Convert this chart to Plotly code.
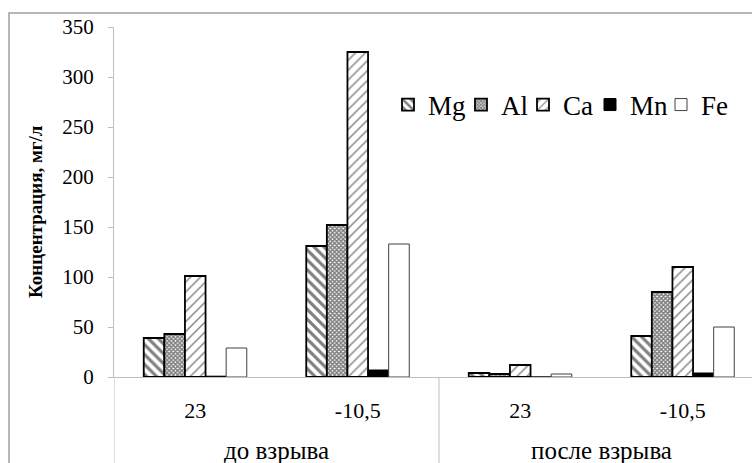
import plotly.graph_objects as go

# ---- data ----
groups = ["до взрыва", "до взрыва", "после взрыва", "после взрыва"]
temps = ["23", "-10,5", "23", "-10,5"]
Mg = [39, 131, 4, 41]
Al = [43, 152, 3, 85]
Ca = [101, 325, 12, 110]
Mn = [0.8, 7, 0, 4]
Fe = [29, 133, 3, 50]
series_names = ["Mg", "Al", "Ca", "Mn", "Fe"]
series_vals = [Mg, Al, Ca, Mn, Fe]
y_ticks = [0, 50, 100, 150, 200, 250, 300, 350]

FONT = "Liberation Serif"
W, H = 752, 463
L, R, T, B = 114, 0, 27, 86
PW = W - L - R
PH = H - T - B

xpos = list(range(len(temps)))

styles = {
    "Mg": dict(color="white", pattern=dict(shape="\\", fgcolor="black", bgcolor="white", size=7, solidity=0.45),
               line=dict(color="black", width=1.8)),
    "Al": dict(color="white", pattern=dict(shape="x", fgcolor="black", bgcolor="white", size=3, solidity=0.75),
               line=dict(color="black", width=1.8)),
    "Ca": dict(color="white", pattern=dict(shape="/", fgcolor="black", bgcolor="white", size=7, solidity=0.2),
               line=dict(color="black", width=1.8)),
    "Mn": dict(color="black", line=dict(color="black", width=1)),
    "Fe": dict(color="white", line=dict(color="#404040", width=1)),
}

# swatch left positions (px) for separate legends
legend_px = {"Mg": 388, "Al": 461, "Ca": 523, "Mn": 590, "Fe": 661}

fig = go.Figure()
for i, (name, vals) in enumerate(zip(series_names, series_vals)):
    lg = "legend" if i == 0 else f"legend{i+1}"
    fig.add_trace(go.Bar(x=xpos, y=vals, name=name, marker=styles[name], legend=lg))

layout_legends = {}
for i, name in enumerate(series_names):
    key = "legend" if i == 0 else f"legend{i+1}"
    layout_legends[key] = dict(
        x=(legend_px[name] - L) / PW, xanchor="left",
        y=(377 - 105) / PH, yanchor="middle",
        bgcolor="rgba(0,0,0,0)", borderwidth=0,
        font=dict(family=FONT, size=27, color="black"),
        itemclick=False, itemdoubleclick=False,
    )

fig.update_layout(
    width=W, height=H,
    margin=dict(l=L, r=R, t=T, b=B, pad=0),
    paper_bgcolor="white", plot_bgcolor="white",
    barmode="group", bargap=0.366, bargroupgap=0,
    showlegend=True,
    font=dict(family=FONT, color="black"),
    **layout_legends,
)

fig.update_xaxes(
    range=[-0.5, -0.5 + PW / 162.5],
    tickvals=xpos, ticktext=temps,
    ticks="", showline=True, linecolor="#bfbfbf", linewidth=1,
    showgrid=False, zeroline=False,
    tickfont=dict(family=FONT, size=22, color="black"),
    ticklabelstandoff=14,
)
fig.update_yaxes(
    range=[0, 350], tickvals=y_ticks,
    ticks="outside", ticklen=5, tickcolor="#bfbfbf",
    showline=True, linecolor="#bfbfbf", linewidth=1,
    showgrid=False, zeroline=False,
    tickfont=dict(family=FONT, size=21, color="black"),
    ticklabelstandoff=10,
)

# group labels (second level of the category axis)
unique_groups = []
for g in groups:
    if g not in unique_groups:
        unique_groups.append(g)
for g in unique_groups:
    idx = [i for i, gg in enumerate(groups) if gg == g]
    fig.add_annotation(x=sum(xpos[i] for i in idx) / len(idx), xref="x",
                       y=(377 - 450) / PH, yref="paper", yanchor="middle",
                       text=g, showarrow=False,
                       font=dict(family=FONT, size=25, color="black"))

# dividers
fig.add_shape(type="line", xref="x", yref="paper", x0=-0.5, x1=-0.5, y0=0, y1=-0.3,
              line=dict(color="#bfbfbf", width=1))
fig.add_shape(type="line", xref="x", yref="paper", x0=1.5, x1=1.5, y0=0, y1=-0.3,
              line=dict(color="#bfbfbf", width=1))

# y-axis title
fig.add_annotation(x=(35 - L) / PW, xref="paper", y=(377 - 212) / PH, yref="paper",
                   text="<b>Концентрация, мг/л</b>", textangle=-90, showarrow=False,
                   xanchor="center", yanchor="middle",
                   font=dict(family=FONT, size=19, color="black"))

# outer chart frame
fig.add_shape(type="rect", xref="paper", yref="paper",
              x0=(9 - L) / PW, x1=1.1, y0=(377 - 13) / PH, y1=-0.4,
              line=dict(color="#a0a0a0", width=1.5), fillcolor="rgba(0,0,0,0)")

fig.write_html("out.html")
